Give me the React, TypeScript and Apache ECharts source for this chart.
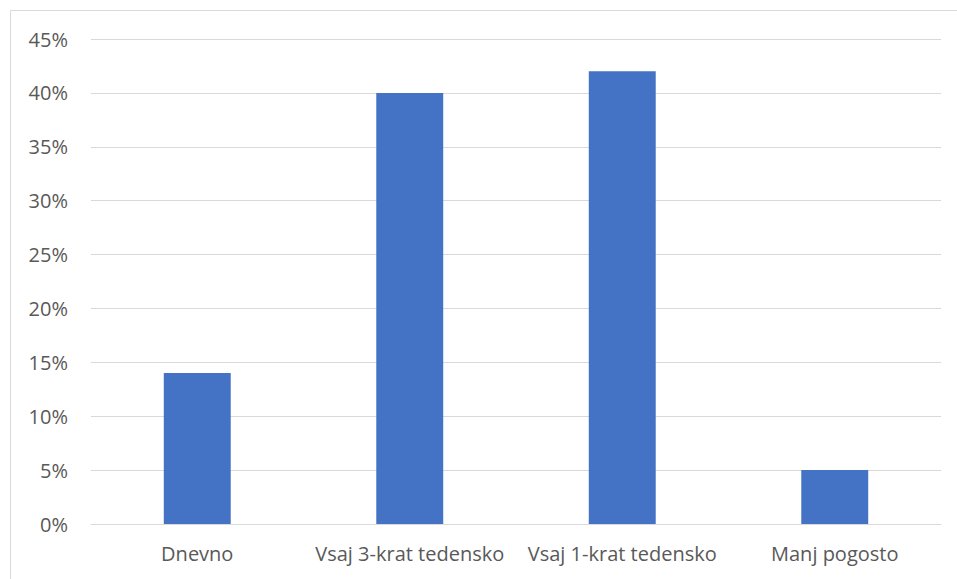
import React, { useEffect, useRef } from "react";
import * as echarts from "echarts";

const categories = ["Dnevno", "Vsaj 3-krat tedensko", "Vsaj 1-krat tedensko", "Manj pogosto"];
const values = [14, 40, 42, 5];
const yTicks = { min: 0, max: 45, interval: 5 };

export default function App() {
  const ref = useRef<HTMLDivElement>(null);
  useEffect(() => {
    const chart = echarts.init(ref.current!, null, { renderer: "svg" });
    chart.setOption({
      animation: false,
      backgroundColor: "#ffffff",
      graphic: [
        {
          type: "rect",
          shape: { x: 10.5, y: 10.5, width: 1000, height: 1000 },
          style: { fill: "none", stroke: "#d9d9d9", lineWidth: 1 },
          silent: true,
        },
      ],
      grid: { left: 91, right: 16, top: 39, bottom: 55, containLabel: false },
      xAxis: {
        type: "category",
        data: categories,
        axisLine: { show: true, lineStyle: { color: "#d9d9d9", width: 1 } },
        axisTick: { show: false },
        axisLabel: {
          color: "#595959",
          fontFamily: "Open Sans",
          fontSize: 20,
          margin: 19,
          interval: 0,
        },
      },
      yAxis: {
        type: "value",
        min: yTicks.min,
        max: yTicks.max,
        interval: yTicks.interval,
        axisLine: { show: false },
        axisTick: { show: false },
        splitLine: { lineStyle: { color: "#d9d9d9", width: 1 } },
        axisLabel: {
          color: "#595959",
          fontFamily: "Open Sans",
          fontSize: 20,
          margin: 23,
          formatter: (v: number) => `${v}%`,
        },
      },
      series: [
        {
          type: "bar",
          data: values,
          barWidth: "31.5%",
          itemStyle: { color: "#4472c4" },
        },
      ],
    });
    return () => chart.dispose();
  }, []);
  return (
    <div
      ref={ref}
      style={{ position: "absolute", left: 0, top: 0, width: 957, height: 579 }}
    />
  );
}
